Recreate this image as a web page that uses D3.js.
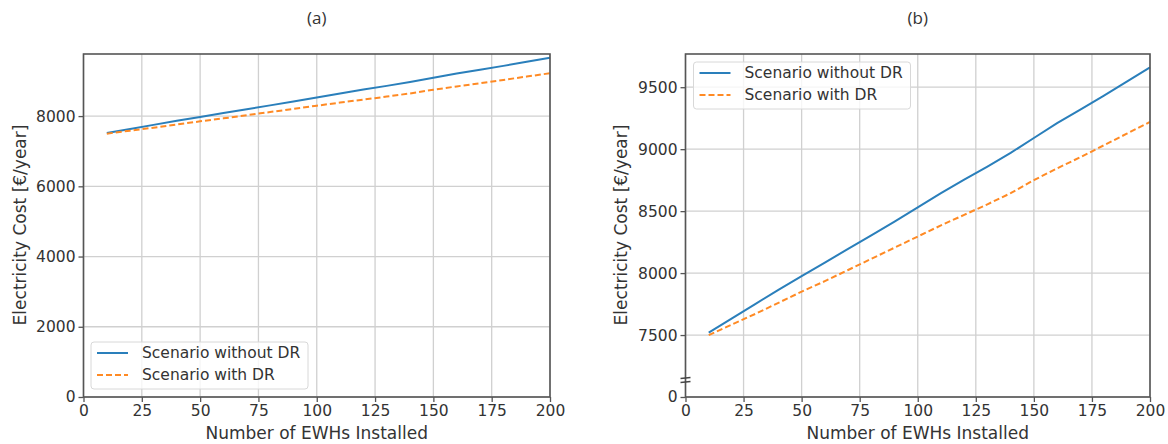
<!DOCTYPE html>
<html>
<head>
<meta charset="utf-8">
<script src="https://cdn.jsdelivr.net/npm/d3@7"></script>
<style>
  body { margin: 0; background: #fff; }
  text { font-family: "DejaVu Sans", sans-serif; fill: #333; }
</style>
</head>
<body>
<div id="chart"></div>
<script>
var width = 1168, height = 444;

// data
var ewhs = [10, 20, 30, 40, 50, 60, 70, 80, 90, 100, 110, 120, 130, 140, 150, 160, 170, 180, 190, 200];
var costWithoutDR = [7520, 7635, 7750, 7865, 7975, 8085, 8195, 8305, 8415, 8530, 8645, 8755, 8860, 8970, 9090, 9210, 9320, 9430, 9545, 9660];
var costWithDR = [7500, 7585, 7670, 7760, 7850, 7935, 8025, 8115, 8205, 8295, 8385, 8470, 8555, 8645, 8750, 8845, 8935, 9030, 9125, 9220];
var xTicks = [0, 25, 50, 75, 100, 125, 150, 175, 200];
var yTicksA = [0, 2000, 4000, 6000, 8000];
var yTicksB = [7000, 7500, 8000, 8500, 9000, 9500];
var seriesNames = ["Scenario without DR", "Scenario with DR"];
var seriesColors = ["#2a7fbb", "#ff8a24"];

var svg = d3.select("#chart").append("svg")
    .attr("width", width)
    .attr("height", height);

function panel(opt) {
    var g = svg.append("g");
    var x = d3.scaleLinear().domain([0, 200]).range([opt.left, opt.right]);
    var y = d3.scaleLinear().domain(opt.ydom).range([397, 54]);

    // grid
    g.selectAll(".vg").data(xTicks).enter().append("line")
        .attr("x1", d => x(d)).attr("x2", d => x(d))
        .attr("y1", y.range()[0]).attr("y2", y.range()[1])
        .attr("stroke", "#d0d0d0").attr("stroke-width", 1.3);
    g.selectAll(".hg").data(opt.yticks).enter().append("line")
        .attr("x1", opt.left).attr("x2", opt.right)
        .attr("y1", d => y(d)).attr("y2", d => y(d))
        .attr("stroke", "#d0d0d0").attr("stroke-width", 1.3);

    // axes
    var xa = g.append("g").attr("transform", "translate(0,397)")
        .call(d3.axisBottom(x).tickValues(xTicks).tickSize(5).tickPadding(3));
    var ya = g.append("g").attr("transform", "translate(" + opt.left + ",0)")
        .call(d3.axisLeft(y).tickValues(opt.yticks).tickSize(5).tickPadding(3).tickFormat(opt.fmt));
    [xa, ya].forEach(function(a) {
        a.select(".domain").remove();
        a.selectAll(".tick line").attr("stroke", "#555").attr("stroke-width", 1.3);
        a.selectAll("text").style("font-size", "15.5px").style("fill", "#333")
            .style("font-family", "DejaVu Sans, sans-serif");
    });

    // lines
    var data = [costWithoutDR, costWithDR];
    data.forEach(function(vals, i) {
        var line = d3.line().x((d, j) => x(ewhs[j])).y(d => y(d));
        g.append("path").datum(vals)
            .attr("d", line)
            .attr("fill", "none")
            .attr("stroke", seriesColors[i])
            .attr("stroke-width", 2)
            .attr("stroke-dasharray", i == 1 ? "6,3" : null);
    });

    // frame
    g.append("rect")
        .attr("x", opt.left).attr("y", 54)
        .attr("width", opt.right - opt.left).attr("height", 397 - 54)
        .attr("fill", "none").attr("stroke", "#555").attr("stroke-width", 1.6);

    // legend
    var lg = g.append("g").attr("transform", "translate(" + opt.lx + "," + opt.ly + ")");
    lg.append("rect").attr("width", 217).attr("height", 47).attr("rx", 3)
        .attr("fill", "#fff").attr("fill-opacity", 0.8)
        .attr("stroke", "#d8d8d8");
    seriesNames.forEach(function(n, i) {
        lg.append("line").attr("x1", 6).attr("x2", 37)
            .attr("y1", 11 + i * 22).attr("y2", 11 + i * 22)
            .attr("stroke", seriesColors[i]).attr("stroke-width", 2)
            .attr("stroke-dasharray", i == 1 ? "6,3" : null);
        lg.append("text").attr("x", 51).attr("y", 11 + i * 22).attr("dy", "0.35em")
            .style("font-size", "15.5px").text(n);
    });

    // titles
    var cx = (opt.left + opt.right) / 2;
    g.append("text").attr("x", cx).attr("y", 18).attr("dy", "0.35em").attr("text-anchor", "middle")
        .style("font-family", "'Open Sans', sans-serif").style("font-size", "17px").text(opt.title);
    g.append("text").attr("x", cx).attr("y", 433).attr("dy", "0.35em").attr("text-anchor", "middle")
        .style("font-size", "17px").text("Number of EWHs Installed");
    g.append("text").attr("transform", "translate(" + opt.ylx + ",225) rotate(-90)")
        .attr("text-anchor", "middle").attr("dy", "0.35em").style("font-size", "17px")
        .text("Electricity Cost [€/year]");
    return {g: g, x: x, y: y};
}

panel({left: 83.5, right: 550, ydom: [0, 9768], yticks: yTicksA, fmt: d3.format("d"),
       lx: 91, ly: 342, title: "(a)", ylx: 20});

var pb = panel({left: 685.5, right: 1150, ydom: [7000, 9768], yticks: yTicksB,
       fmt: d => d == 7000 ? "0" : d, lx: 693.5, ly: 62, title: "(b)", ylx: 621});

// axis break mark on panel (b)
[0, 4].forEach(function(o) {
    pb.g.append("line")
        .attr("x1", 680.5).attr("x2", 690.5)
        .attr("y1", 378.5 + o).attr("y2", 377.5 + o)
        .attr("stroke", "#444").attr("stroke-width", 1.3);
});
</script>
</body>
</html>
